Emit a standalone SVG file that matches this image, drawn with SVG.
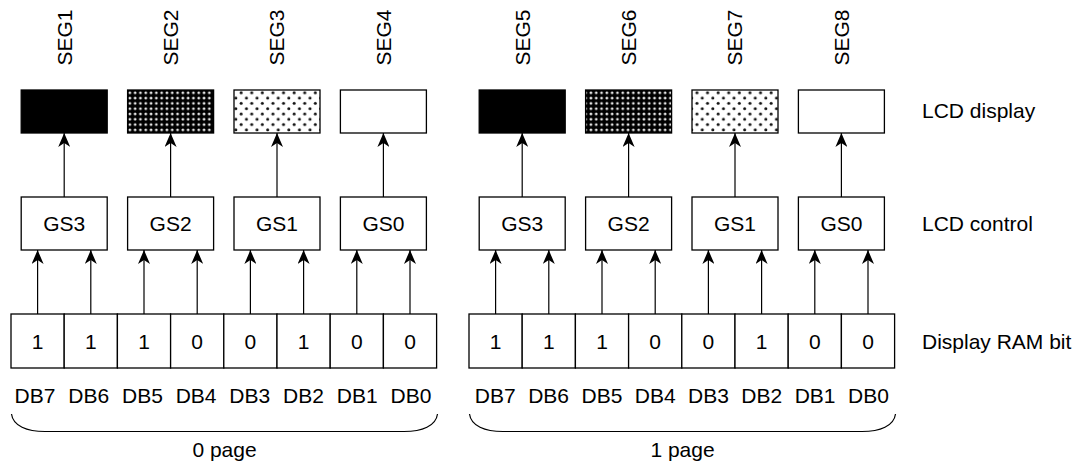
<svg xmlns="http://www.w3.org/2000/svg" width="1085" height="466" viewBox="0 0 1085 466">
<style>
text{font-family:"Liberation Sans",Arial,sans-serif;font-size:21px;fill:#000}
.m{text-anchor:middle}
.b{fill:#fff;stroke:#000;stroke-width:1.3}
.c{stroke:#000;stroke-width:1.2;fill:none}
</style>
<defs>
<marker id="ah" viewBox="0 0 14 12" refX="14" refY="6" markerWidth="14" markerHeight="12" markerUnits="userSpaceOnUse" orient="auto">
<path d="M14,6 L0,0 L4,6 L0,12 Z" fill="#000"/>
</marker>
<pattern id="dense" width="5.3" height="5.3" patternUnits="userSpaceOnUse">
<rect width="5.3" height="5.3" fill="#000"/>
<circle cx="2.65" cy="2.65" r="1.4" fill="#e6e6e6"/>
</pattern>
<pattern id="sparse" width="10.6" height="10.6" patternUnits="userSpaceOnUse">
<rect width="10.6" height="10.6" fill="#fff"/>
<circle cx="2.65" cy="2.65" r="1.5" fill="#111"/>
<circle cx="7.95" cy="7.95" r="1.5" fill="#111"/>
</pattern>
</defs>

<g id="seg-labels">
<text class="m" transform="translate(71.5,37.5) rotate(-90)">SEG1</text>
<text class="m" transform="translate(177.9,37.5) rotate(-90)">SEG2</text>
<text class="m" transform="translate(284.3,37.5) rotate(-90)">SEG3</text>
<text class="m" transform="translate(390.7,37.5) rotate(-90)">SEG4</text>
<text class="m" transform="translate(529.5,37.5) rotate(-90)">SEG5</text>
<text class="m" transform="translate(635.9,37.5) rotate(-90)">SEG6</text>
<text class="m" transform="translate(742.3,37.5) rotate(-90)">SEG7</text>
<text class="m" transform="translate(848.7,37.5) rotate(-90)">SEG8</text>
</g>

<g id="lcd1"><rect x="21.2" y="90" width="86" height="43" fill="#000" stroke="#000" stroke-width="1.3"/></g>
<g id="lcd2"><rect x="127.6" y="90" width="86" height="43" fill="url(#dense)" stroke="#000" stroke-width="1.3"/></g>
<g id="lcd3"><rect x="234" y="90" width="86" height="43" fill="url(#sparse)" stroke="#000" stroke-width="1.3"/></g>
<g id="lcd4"><rect x="340.4" y="90" width="86" height="43" class="b"/></g>
<g id="lcd5"><rect x="479.2" y="90" width="86" height="43" fill="#000" stroke="#000" stroke-width="1.3"/></g>
<g id="lcd6"><rect x="585.6" y="90" width="86" height="43" fill="url(#dense)" stroke="#000" stroke-width="1.3"/></g>
<g id="lcd7"><rect x="692" y="90" width="86" height="43" fill="url(#sparse)" stroke="#000" stroke-width="1.3"/></g>
<g id="lcd8"><rect x="798.4" y="90" width="86" height="43" class="b"/></g>

<g id="gs-left">
<rect x="21.2" y="197" width="86" height="53" class="b"/><text class="m" x="64.2" y="231">GS3</text>
<rect x="127.6" y="197" width="86" height="53" class="b"/><text class="m" x="170.6" y="231">GS2</text>
<rect x="234" y="197" width="86" height="53" class="b"/><text class="m" x="277" y="231">GS1</text>
<rect x="340.4" y="197" width="86" height="53" class="b"/><text class="m" x="383.4" y="231">GS0</text>
</g>
<g id="gs-right">
<rect x="479.2" y="197" width="86" height="53" class="b"/><text class="m" x="522.2" y="231">GS3</text>
<rect x="585.6" y="197" width="86" height="53" class="b"/><text class="m" x="628.6" y="231">GS2</text>
<rect x="692" y="197" width="86" height="53" class="b"/><text class="m" x="735" y="231">GS1</text>
<rect x="798.4" y="197" width="86" height="53" class="b"/><text class="m" x="841.4" y="231">GS0</text>
</g>

<g id="ram-left">
<rect x="11" y="314" width="53.2" height="54" class="b"/><text class="m" x="37.6" y="348.5">1</text>
<rect x="64.2" y="314" width="53.2" height="54" class="b"/><text class="m" x="90.8" y="348.5">1</text>
<rect x="117.4" y="314" width="53.2" height="54" class="b"/><text class="m" x="144" y="348.5">1</text>
<rect x="170.6" y="314" width="53.2" height="54" class="b"/><text class="m" x="197.2" y="348.5">0</text>
<rect x="223.8" y="314" width="53.2" height="54" class="b"/><text class="m" x="250.4" y="348.5">0</text>
<rect x="277" y="314" width="53.2" height="54" class="b"/><text class="m" x="303.6" y="348.5">1</text>
<rect x="330.2" y="314" width="53.2" height="54" class="b"/><text class="m" x="356.8" y="348.5">0</text>
<rect x="383.4" y="314" width="53.2" height="54" class="b"/><text class="m" x="410" y="348.5">0</text>
</g>
<g id="ram-right">
<rect x="469" y="314" width="53.2" height="54" class="b"/><text class="m" x="495.6" y="348.5">1</text>
<rect x="522.2" y="314" width="53.2" height="54" class="b"/><text class="m" x="548.8" y="348.5">1</text>
<rect x="575.4" y="314" width="53.2" height="54" class="b"/><text class="m" x="602" y="348.5">1</text>
<rect x="628.6" y="314" width="53.2" height="54" class="b"/><text class="m" x="655.2" y="348.5">0</text>
<rect x="681.8" y="314" width="53.2" height="54" class="b"/><text class="m" x="708.4" y="348.5">0</text>
<rect x="735" y="314" width="53.2" height="54" class="b"/><text class="m" x="761.6" y="348.5">1</text>
<rect x="788.2" y="314" width="53.2" height="54" class="b"/><text class="m" x="814.8" y="348.5">0</text>
<rect x="841.4" y="314" width="53.2" height="54" class="b"/><text class="m" x="868" y="348.5">0</text>
</g>

<g id="db-labels">
<text class="m" x="35" y="403">DB7</text><text class="m" x="88.7" y="403">DB6</text><text class="m" x="142.4" y="403">DB5</text><text class="m" x="196.1" y="403">DB4</text>
<text class="m" x="249.8" y="403">DB3</text><text class="m" x="303.5" y="403">DB2</text><text class="m" x="357.2" y="403">DB1</text><text class="m" x="410.9" y="403">DB0</text>
<text class="m" x="495.3" y="403">DB7</text><text class="m" x="548.6" y="403">DB6</text><text class="m" x="601.9" y="403">DB5</text><text class="m" x="655.2" y="403">DB4</text>
<text class="m" x="708.5" y="403">DB3</text><text class="m" x="761.8" y="403">DB2</text><text class="m" x="815.1" y="403">DB1</text><text class="m" x="868.4" y="403">DB0</text>
</g>

<g id="braces">
<path class="c" d="M11.5,414 C13,426 27,431.5 45,431.5 L404,431.5 C422,431.5 436,426 437.5,414"/>
<path class="c" d="M469.5,414 C471,426 485,431.5 503,431.5 L862,431.5 C880,431.5 894,426 895.5,414"/>
<text class="m" x="224.5" y="457">0 page</text>
<text class="m" x="682.5" y="457">1 page</text>
</g>

<g id="row-labels">
<text x="922" y="118">LCD display</text>
<text x="922" y="231">LCD control</text>
<text x="922" y="348.5">Display RAM bit</text>
</g>

<g id="connectors" stroke="#000" stroke-width="1.2" fill="none" marker-end="url(#ah)">
<line x1="64.2" y1="197" x2="64.2" y2="133"/>
<line x1="170.6" y1="197" x2="170.6" y2="133"/>
<line x1="277" y1="197" x2="277" y2="133"/>
<line x1="383.4" y1="197" x2="383.4" y2="133"/>
<line x1="522.2" y1="197" x2="522.2" y2="133"/>
<line x1="628.6" y1="197" x2="628.6" y2="133"/>
<line x1="735" y1="197" x2="735" y2="133"/>
<line x1="841.4" y1="197" x2="841.4" y2="133"/>
<line x1="37.6" y1="314" x2="37.6" y2="250"/>
<line x1="90.8" y1="314" x2="90.8" y2="250"/>
<line x1="144" y1="314" x2="144" y2="250"/>
<line x1="197.2" y1="314" x2="197.2" y2="250"/>
<line x1="250.4" y1="314" x2="250.4" y2="250"/>
<line x1="303.6" y1="314" x2="303.6" y2="250"/>
<line x1="356.8" y1="314" x2="356.8" y2="250"/>
<line x1="410" y1="314" x2="410" y2="250"/>
<line x1="495.6" y1="314" x2="495.6" y2="250"/>
<line x1="548.8" y1="314" x2="548.8" y2="250"/>
<line x1="602" y1="314" x2="602" y2="250"/>
<line x1="655.2" y1="314" x2="655.2" y2="250"/>
<line x1="708.4" y1="314" x2="708.4" y2="250"/>
<line x1="761.6" y1="314" x2="761.6" y2="250"/>
<line x1="814.8" y1="314" x2="814.8" y2="250"/>
<line x1="868" y1="314" x2="868" y2="250"/>
</g>
</svg>
